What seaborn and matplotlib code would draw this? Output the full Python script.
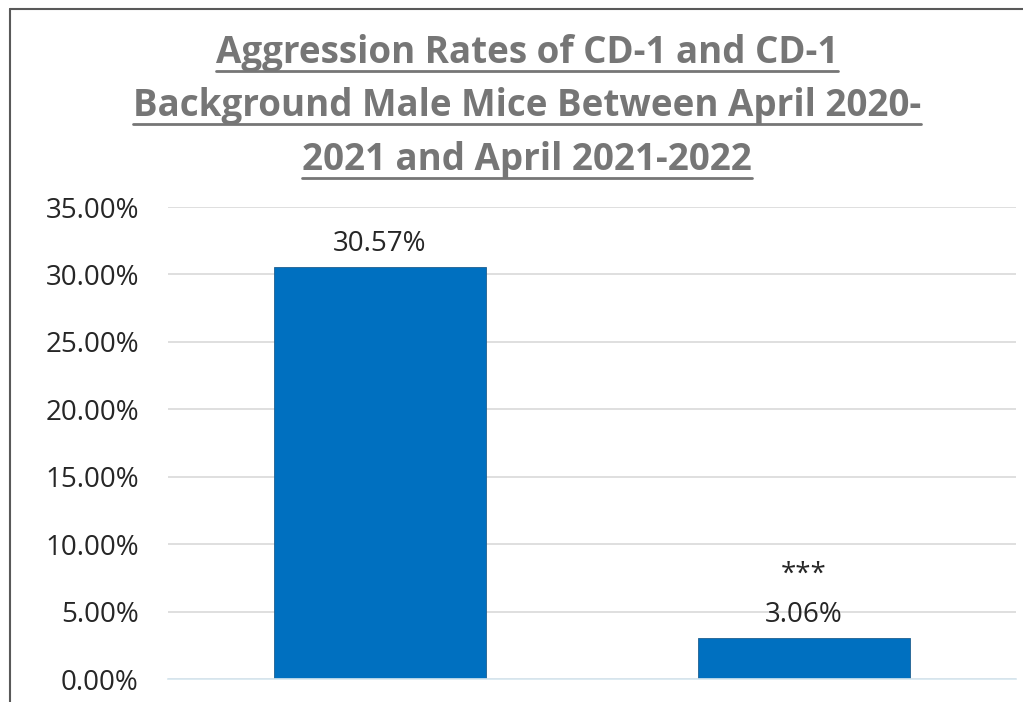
import matplotlib
matplotlib.use("Agg")
import matplotlib.pyplot as plt
from matplotlib.lines import Line2D
from matplotlib.ticker import FuncFormatter, MultipleLocator
import seaborn as sns
import pandas as pd

categories = ["April 2020-2021", "April 2021-2022"]
rates = [30.57, 3.06]
value_labels = ["30.57%", "3.06%"]
significance = ["", "***"]
title_lines = ["Aggression Rates of CD-1 and CD-1",
               "Background Male Mice Between April 2020-",
               "2021 and April 2021-2022"]

sns.set_theme(style="white")
plt.rcParams['font.family'] = ['Open Sans', 'DejaVu Sans']

df = pd.DataFrame({"period": categories, "rate": rates})

fig = plt.figure(figsize=(10.23, 7.02), dpi=100)
W, H = 1023, 702
ax = fig.add_axes([168 / W, 1 - 679 / H, (1016 - 168) / W, (679 - 207) / H])

sns.barplot(data=df, x="period", y="rate", color="#0070C0", width=0.5,
            saturation=1, ax=ax, edgecolor="#1f5f8f", linewidth=0.6)

ax.set_ylim(0, 35)
ax.set_xlim(-0.5, 1.5)
ax.yaxis.set_major_locator(MultipleLocator(5))
ax.yaxis.set_major_formatter(FuncFormatter(lambda v, p: f"{v:.2f}%"))
ax.grid(axis="y", color="#D9D9D9", linewidth=1.2)
ax.set_axisbelow(True)
for s in ["left", "right", "top"]:
    ax.spines[s].set_visible(False)
ax.spines["bottom"].set_color("#d6e6ef")
ax.spines["bottom"].set_linewidth(1.2)
ax.set_xlabel("")
ax.set_ylabel("")
ax.set_xticklabels([])
ax.tick_params(axis="x", length=0)
ax.tick_params(axis="y", length=0, labelsize=20, labelcolor="#262626", pad=21)

for i, (v, lab, sig) in enumerate(zip(rates, value_labels, significance)):
    ax.annotate(lab, (i, v), xytext=(0, 11.5), textcoords="offset points",
                ha="center", va="baseline", fontsize=20, color="#262626")
    if sig:
        ax.annotate(sig, (i, v), xytext=(0, 40), textcoords="offset points",
                    ha="center", va="baseline", fontsize=20, color="#262626")

# Title lines
title_texts = []
cx = 527 / W
baselines = [63, 116, 170]
for line, yp in zip(title_lines, baselines):
    t = fig.text(cx, 1 - yp / H, line, ha="center", va="baseline",
                 fontsize=26.5, fontweight="bold", color="#767676")
    title_texts.append(t)

fig.canvas.draw()
renderer = fig.canvas.get_renderer()
for t, yp in zip(title_texts, [71, 124, 178]):
    bb = t.get_window_extent(renderer)
    x0, x1 = bb.x0 / W, bb.x1 / W
    yy = 1 - yp / H
    fig.add_artist(Line2D([x0, x1], [yy, yy], transform=fig.transFigure,
                          color="#767676", linewidth=2))

# chart border
fig.add_artist(Line2D([9.5 / W, 9.5 / W], [0, 1 - 8.5 / H], transform=fig.transFigure,
                      color="#595959", linewidth=1.5))
fig.add_artist(Line2D([9.5 / W, 1], [1 - 8.5 / H, 1 - 8.5 / H], transform=fig.transFigure,
                      color="#595959", linewidth=1.5))

fig.savefig("out.png", dpi=100)
